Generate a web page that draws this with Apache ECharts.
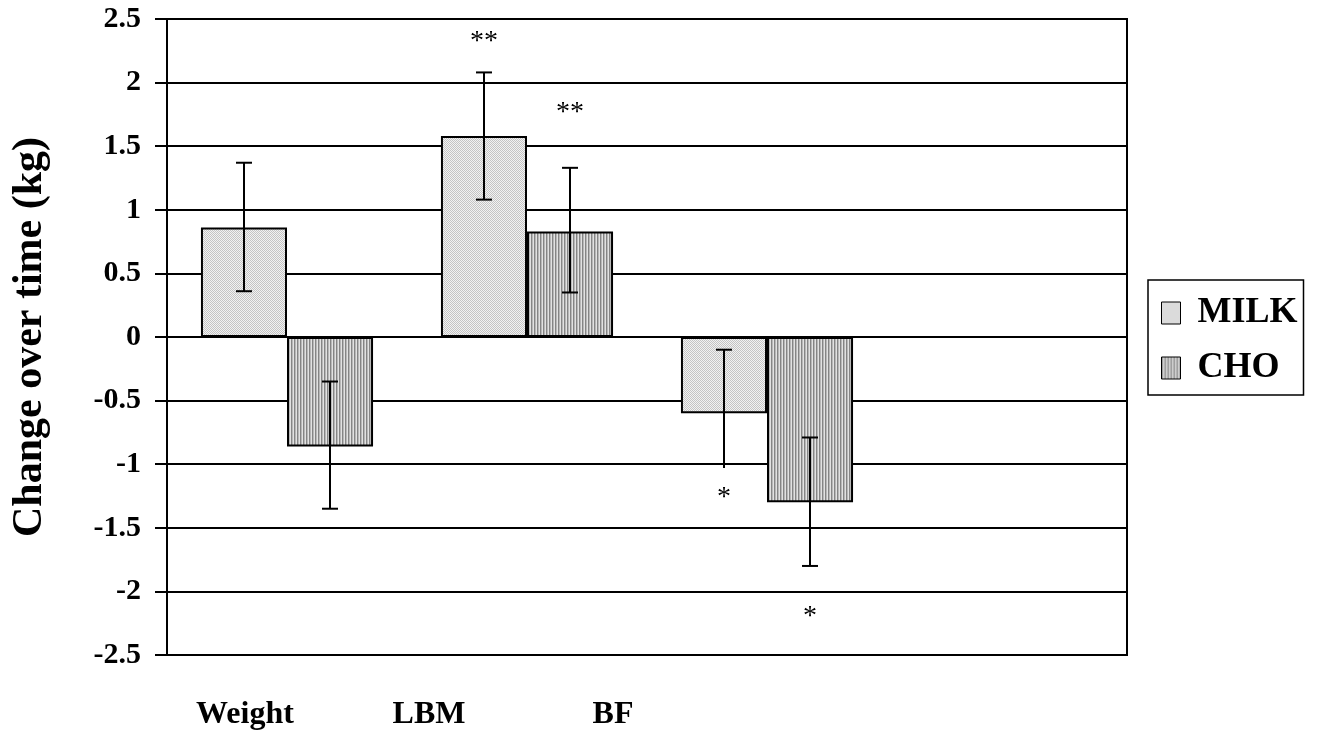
<!DOCTYPE html>
<html>
<head>
<meta charset="utf-8">
<script src="https://cdn.jsdelivr.net/npm/echarts@6/dist/echarts.min.js"></script>
<style>html,body{margin:0;padding:0;background:#fff}#c{width:1317px;height:740px}</style>
</head>
<body>
<div id="c"></div>
<script>
// ---- data ----
var categories = ['Weight', 'LBM', 'BF'];
var seriesNames = ['MILK', 'CHO'];
var milkValues = [0.86, 1.58, -0.60];
var choValues = [-0.86, 0.83, -1.30];
var milkErrLow = [0.36, 1.08, -1.03];
var milkErrHigh = [1.37, 2.08, -0.10];
var milkCapLow = [true, true, false];
var choErrLow = [-1.35, 0.35, -1.80];
var choErrHigh = [-0.35, 1.33, -0.79];
var choCapLow = [true, true, true];
var milkStars = ['', '**', '*'];
var milkStarY = [null, 2.36, -1.22];
var choStars = ['', '**', '*'];
var choStarY = [null, 1.80, -2.16];
var yTicks = [-2.5, -2, -1.5, -1, -0.5, 0, 0.5, 1, 1.5, 2, 2.5];

var FONT = '"Liberation Serif", "Times New Roman", serif';

function makePattern(kind) {
  var c = document.createElement('canvas');
  var ctx = c.getContext('2d');
  if (kind === 'dots') {
    c.width = 2; c.height = 2;
    ctx.fillStyle = '#f2f2f2'; ctx.fillRect(0, 0, 2, 2);
    ctx.fillStyle = '#c4c4c4'; ctx.fillRect(0, 0, 1, 1); ctx.fillRect(1, 1, 1, 1);
  } else {
    c.width = 3; c.height = 1;
    ctx.fillStyle = '#e2e2e2'; ctx.fillRect(0, 0, 3, 1);
    ctx.fillStyle = '#858585'; ctx.fillRect(0, 0, 1, 1);
    ctx.fillStyle = '#b8b8b8'; ctx.fillRect(1, 0, 1, 1);
  }
  return { image: c, repeat: 'repeat' };
}
var milkColor = makePattern('dots');
var choColor = makePattern('stripes');

var axisCats = categories.concat(['']);
var nSeries = 2;

function errData(lows, highs, caps) {
  return lows.map(function (l, i) { return [i, l, highs[i], caps[i] ? 1 : 0]; });
}
function starData(ys) {
  var out = [];
  ys.forEach(function (y, i) { if (y !== null) out.push([i, y]); });
  return out;
}

function barCenter(api, idx, seriesIdx, val) {
  var p = api.coord([idx, val]);
  var bw = api.size([1, 0])[0];
  var barW = bw * 0.717 / nSeries;
  var offset = (seriesIdx - (nSeries - 1) / 2) * barW;
  return [p[0] + offset, p[1]];
}

function errRender(seriesIdx) {
  return function (params, api) {
    var idx = api.value(0);
    var lo = barCenter(api, idx, seriesIdx, api.value(1));
    var hi = barCenter(api, idx, seriesIdx, api.value(2));
    var x = lo[0];
    var cw = 8;
    var style = { stroke: '#000', lineWidth: 2 };
    var children = [
      { type: 'line', shape: { x1: x, y1: lo[1], x2: x, y2: hi[1] }, style: style },
      { type: 'line', shape: { x1: x - cw, y1: hi[1], x2: x + cw, y2: hi[1] }, style: style }
    ];
    if (api.value(3)) children.push({ type: 'line', shape: { x1: x - cw, y1: lo[1], x2: x + cw, y2: lo[1] }, style: style });
    return { type: 'group', children: children };
  };
}
function starRender(seriesIdx, texts) {
  return function (params, api) {
    var idx = api.value(0);
    var p = barCenter(api, idx, seriesIdx, api.value(1));
    return {
      type: 'text',
      style: { x: p[0], y: p[1] + 5, text: texts[idx], fill: '#000', font: '28px ' + FONT, align: 'center', verticalAlign: 'middle' }
    };
  };
}

var chart = echarts.init(document.getElementById('c'));
chart.setOption({
  animation: false,
  backgroundColor: '#fff',
  legend: {
    orient: 'vertical',
    left: 1148, top: 280,
    data: seriesNames,
    itemWidth: 19, itemHeight: 22, itemGap: 19,
    icon: 'rect',
    padding: [15, 6, 9, 13],
    borderColor: '#000', borderWidth: 1.5,
    itemStyle: { borderColor: '#000', borderWidth: 1 },
    textStyle: { fontFamily: FONT, fontWeight: 'bold', fontSize: 36, color: '#000', padding: [0, 0, 0, 12] }
  },
  grid: [
    { left: 167, right: 190, top: 19, bottom: 85, show: true, borderColor: '#000', borderWidth: 2, backgroundColor: 'transparent' },
    { left: 153, width: 552, top: 19, bottom: 85, show: false }
  ],
  xAxis: [
    { type: 'category', gridIndex: 0, data: axisCats, axisLine: { show: false }, axisTick: { show: false }, axisLabel: { show: false } },
    { type: 'category', gridIndex: 1, data: categories, axisLine: { show: false }, axisTick: { show: false },
      axisLabel: { margin: 44, fontFamily: FONT, fontWeight: 'bold', fontSize: 32, color: '#000' } }
  ],
  yAxis: [
    { type: 'value', gridIndex: 0, min: -2.5, max: 2.5, interval: 0.5,
      name: 'Change over time (kg)', nameLocation: 'middle', nameGap: 116, nameRotate: 90,
      nameTextStyle: { fontFamily: FONT, fontWeight: 'bold', fontSize: 42, color: '#000' },
      axisLine: { show: true, lineStyle: { color: '#000', width: 2 } },
      axisTick: { show: true, inside: false, length: 12, lineStyle: { color: '#000', width: 2 } },
      splitLine: { show: true, lineStyle: { color: '#000', width: 2 } },
      axisLabel: { margin: 26, fontFamily: FONT, fontWeight: 'bold', fontSize: 30, color: '#000',
        formatter: function (v) { return String(yTicks[yTicks.indexOf(v)]); } } },
    { type: 'value', gridIndex: 1, show: false, min: -2.5, max: 2.5 }
  ],
  series: [
    { name: 'MILK', type: 'bar', data: milkValues, barGap: '0%', barCategoryGap: '28.3%',
      itemStyle: { color: milkColor, borderColor: '#000', borderWidth: 2 } },
    { name: 'CHO', type: 'bar', data: choValues, barGap: '0%', barCategoryGap: '28.3%',
      itemStyle: { color: choColor, borderColor: '#000', borderWidth: 2 } },
    { type: 'custom', renderItem: errRender(0), data: errData(milkErrLow, milkErrHigh, milkCapLow), z: 5, silent: true },
    { type: 'custom', renderItem: errRender(1), data: errData(choErrLow, choErrHigh, choCapLow), z: 5, silent: true },
    { type: 'custom', renderItem: starRender(0, milkStars), data: starData(milkStarY), z: 6, silent: true },
    { type: 'custom', renderItem: starRender(1, choStars), data: starData(choStarY), z: 6, silent: true }
  ]
});
</script>
</body>
</html>
